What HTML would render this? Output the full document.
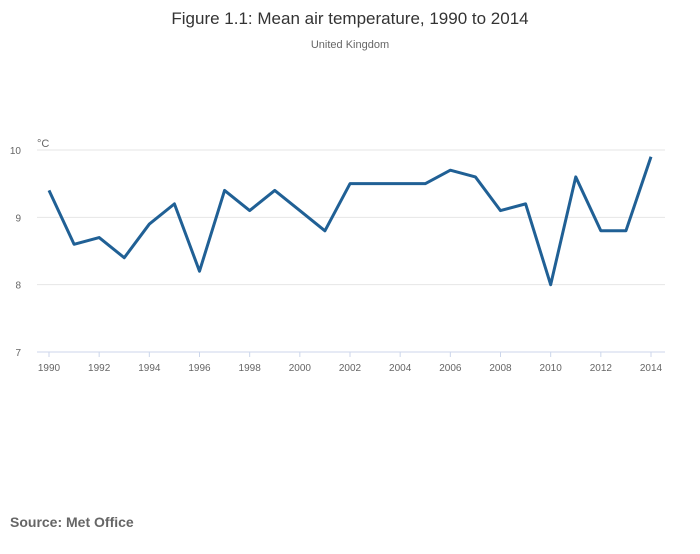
<!DOCTYPE html>
<html><head><meta charset="utf-8"><style>
body{margin:0;background:#fff;font-family:"Liberation Sans",sans-serif;}
</style></head><body>
<svg width="700" height="549" xmlns="http://www.w3.org/2000/svg">
<text x="350" y="24" text-anchor="middle" font-size="17" fill="#333">Figure 1.1: Mean air temperature, 1990 to 2014</text>
<text x="350" y="48" text-anchor="middle" font-size="11" fill="#666">United Kingdom</text>
<text x="37" y="147" font-size="11" fill="#666">°C</text>
<g id="grid"></g><g id="xt"></g>
<path id="line" fill="none" stroke="#206095" stroke-width="3" stroke-linejoin="round"/>
<text x="10" y="527" font-size="14" font-weight="bold" fill="#666">Source: Met Office</text>
</svg>
<script>
const years=[1990,1991,1992,1993,1994,1995,1996,1997,1998,1999,2000,2001,2002,2003,2004,2005,2006,2007,2008,2009,2010,2011,2012,2013,2014];
const temps=[9.4,8.6,8.7,8.4,8.9,9.2,8.2,9.4,9.1,9.4,9.1,8.8,9.5,9.5,9.5,9.5,9.7,9.6,9.1,9.2,8.0,9.6,8.8,8.8,9.9];
const yTicks=[7,8,9,10];
const xTicks=[1990,1992,1994,1996,1998,2000,2002,2004,2006,2008,2010,2012,2014];
const NS="http://www.w3.org/2000/svg";
const x=v=>49+(v-1990)*(651-49)/24;
const y=v=>352-(v-7)*(352-150)/3;
const g=document.getElementById('grid'),xt=document.getElementById('xt');
yTicks.forEach(t=>{
 const l=document.createElementNS(NS,'line');
 
 
 l.setAttribute('x1',37);l.setAttribute('x2',665);l.setAttribute('y1',y(t));l.setAttribute('y2',y(t));
 l.setAttribute('stroke',t===7?'#ccd6eb':'#e6e6e6');l.setAttribute('stroke-width',1);g.appendChild(l);
 const tx=document.createElementNS(NS,'text');
 
 
 tx.setAttribute('x',21);tx.setAttribute('y',y(t)+4);tx.setAttribute('text-anchor','end');tx.setAttribute('font-size',10);tx.setAttribute('fill','#666');
 tx.textContent=t;g.appendChild(tx);
});
xTicks.forEach(t=>{
 const l=document.createElementNS(NS,'line');
 
 
 l.setAttribute('x1',x(t));l.setAttribute('x2',x(t));l.setAttribute('y1',352);l.setAttribute('y2',357);
 l.setAttribute('stroke','#ccd6eb');xt.appendChild(l);
 const tx=document.createElementNS(NS,'text');
 
 
 tx.setAttribute('x',x(t));tx.setAttribute('y',371);tx.setAttribute('text-anchor','middle');tx.setAttribute('font-size',10);tx.setAttribute('fill','#666');
 tx.textContent=t;xt.appendChild(tx);
});
document.getElementById('line').setAttribute('d',years.map((yr,i)=>(i?'L':'M')+x(yr)+','+y(temps[i])).join(''));
</script>
</body></html>
